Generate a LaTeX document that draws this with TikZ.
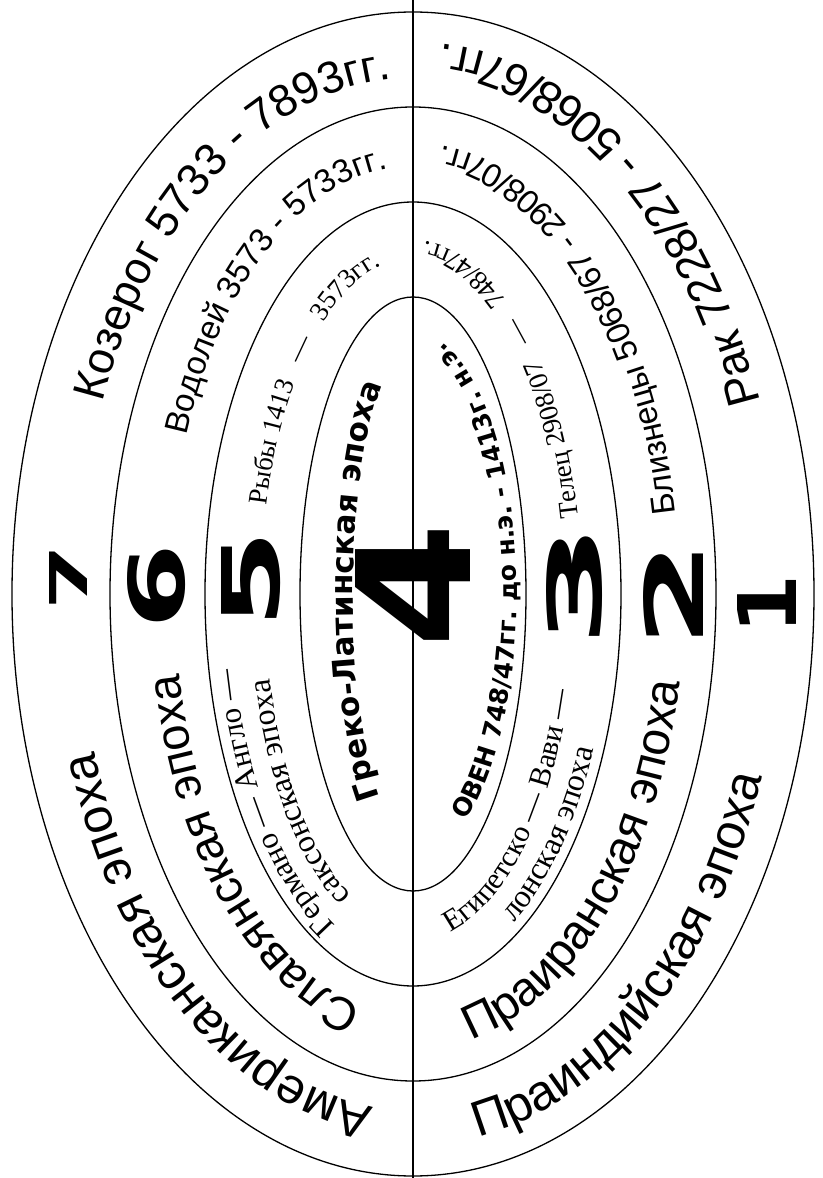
\documentclass[tikz,border=0pt]{standalone}
\usepackage{fontspec}
\setmainfont{Liberation Sans}
\newfontfamily\serifband{Liberation Serif}
\newfontfamily\heavy{DejaVu Sans}
\usepackage{graphicx}
\usetikzlibrary{decorations.text}

\newcommand{\fs}[1]{\fontsize{#1}{#1}\selectfont}
% text on an elliptic arc: x radius, y radius, from, to, font, text
\newcommand{\arctext}[6]{%
  \path[decorate, decoration={text along path, text align=center, text={|#5|#6}}]
    (#3:#1pt and #2pt) arc[start angle=#3, end angle=#4, x radius=#1pt, y radius=#2pt];}

\begin{document}
\begin{tikzpicture}[
  x=1pt, y=1pt,
  ring/.style={draw=black, line width=1.3pt},
  numeral/.style={font=\heavy\bfseries, inner sep=0pt, rotate=90},
]
\useasboundingbox (-413,-584) rectangle (409,594);
\fill[white] (-413,-584) rectangle (409,594);

% --- ellipses and divider ---
\foreach \a/\b in {113/297, 208/392, 303/487, 401/582}
  \draw[ring] (0,0) ellipse [x radius=\a, y radius=\b];
\coordinate (top) at (0,594);
\coordinate (bottom) at (0,-584);
\draw[ring] (top) -- (bottom);

% --- left half: tops outward ---
\arctext{334}{516}{266}{196}{\fs{50}}{Американская эпоха}
\arctext{334}{516}{160}{91}{\fs{45}}{Козерог 5733 - 7893гг.}
\arctext{238}{422}{261}{189}{\fs{47}}{Славянская эпоха}
\arctext{244}{428}{160}{93}{\fs{33}}{Водолей 3573 - 5733гг.}
\arctext{182}{366}{251}{188}{\serifband\fs{31}}{Германо — Англо —}
\arctext{148}{332}{254}{190}{\serifband\fs{32}}{саксонская эпоха}
\arctext{152}{336}{168}{95}{\serifband\fs{27}}{Рыбы 1413 {\enspace}—{\enspace} 3573гг.}
\arctext{60}{244}{244}{113}{\heavy\bfseries\fs{31}}{Греко-Латинская эпоха}

% --- right half: tops inward ---
\arctext{370}{552}{-86}{-15}{\fs{50}}{Праиндийская эпоха}
\arctext{370}{552}{18}{89}{\fs{46}}{Рак 7228/27 - 5068/67гг.}
\arctext{272}{456}{-86}{-6}{\fs{48}}{Праиранская эпоха}
\arctext{267}{451}{9}{86}{\fs{33}}{Близнецы 5068/67 - 2908/07гг.}
\arctext{163}{347}{-83}{-13}{\serifband\fs{30}}{Египетско — Вави —}
\arctext{198}{382}{-68}{-18}{\serifband\fs{32}}{лонская эпоха}
\arctext{169}{353}{12}{87}{\serifband\fs{27}}{Телец 2908/07 {\enspace}—{\enspace} 748/47гг.}
\arctext{104}{262}{-68}{84}{\heavy\bfseries\fs{25}}{ОВЕН 748/47гг. до н.э. - 1413г. н.э.}

% --- epoch numbers ---
\node[numeral] (n7) at (-344,17)  {\resizebox{66pt}{38pt}{7}};
\node[numeral] (n6) at (-256,8)   {\resizebox{86pt}{57pt}{6}};
\node[numeral] (n5) at (-162,15)  {\resizebox{100pt}{58pt}{5}};
\node[numeral] (n4) at (0,9)      {\resizebox{126pt}{115pt}{4}};
\node[numeral] (n3) at (162,9)    {\resizebox{126pt}{55pt}{3}};
\node[numeral] (n2) at (260,0)    {\resizebox{108pt}{60pt}{2}};
\node[numeral] (n1) at (354,-10)  {\resizebox{60pt}{59pt}{1}};

\end{tikzpicture}
\end{document}
